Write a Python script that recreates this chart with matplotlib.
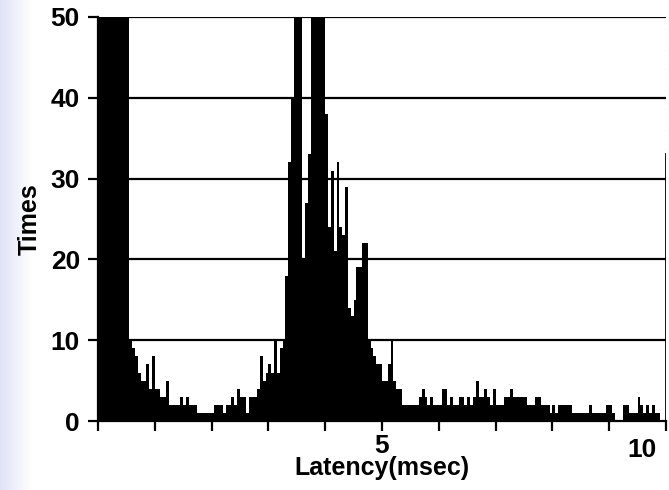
import numpy as np
import matplotlib
matplotlib.use("Agg")
import matplotlib.pyplot as plt
from matplotlib.transforms import ScaledTranslation

plt.rcParams['font.family'] = ['Liberation Sans', 'DejaVu Sans']

# histogram: bin width 0.05 msec, 0 .. 10 msec
bin_width = 0.05
counts = [
    60, 60, 60, 60, 60, 60, 60, 60, 60, 60,      # 0.00-0.50
    60, 10, 9, 8, 6, 5, 5, 7, 4, 8,              # 0.50-1.00
    4, 4, 3, 3, 5, 2, 2, 2, 2, 3,                # 1.00-1.50
    2, 3, 2, 2, 2, 1, 1, 1, 1, 1,                # 1.50-2.00
    1, 2, 2, 2, 1, 2, 2, 3, 2, 4,                # 2.00-2.50
    3, 3, 1, 3, 3, 3, 4, 8, 5, 6,                # 2.50-3.00
    7, 6, 10, 6, 9, 10, 18, 32, 40, 60,          # 3.00-3.50
    60, 60, 20, 27, 33, 60, 60, 60, 60, 60,      # 3.50-4.00
    38, 24, 31, 21, 32, 24, 23, 29, 14, 13,      # 4.00-4.50
    15, 19, 19, 22, 22, 10, 9, 8, 7, 7,          # 4.50-5.00
    5, 5, 7, 10, 5, 4, 4, 2, 2, 2,               # 5.00-5.50
    2, 2, 2, 3, 4, 3, 2, 3, 2, 2,                # 5.50-6.00
    2, 4, 4, 2, 3, 2, 2, 3, 3, 2,                # 6.00-6.50
    3, 2, 3, 5, 3, 3, 4, 3, 2, 4,                # 6.50-7.00
    2, 2, 2, 3, 3, 4, 3, 3, 3, 3,                # 7.00-7.50
    3, 2, 2, 2, 3, 3, 2, 2, 2, 1,                # 7.50-8.00
    2, 1, 2, 2, 2, 2, 2, 1, 1, 1,                # 8.00-8.50
    1, 1, 1, 2, 1, 1, 1, 1, 1, 2,                # 8.50-9.00
    2, 1, 0, 0, 0, 2, 2, 1, 1, 1,                # 9.00-9.50
    3, 2, 1, 2, 1, 2, 1, 1, 0, 0,                # 9.50-10.0
]

y_ticks = [0, 10, 20, 30, 40, 50]
x_ticks = [0, 1, 2, 3, 4, 5, 6, 7, 8, 9, 10]
x_tick_labels = ['', '', '', '', '', '5', '', '', '', '', '10']

W, H = 669, 490
fig = plt.figure(figsize=(W / 100, H / 100), dpi=100)

# light lavender gradient on the left edge of the page
bg = fig.add_axes([0, 0, 1, 1], zorder=-10)
xs = np.arange(W)
fade = np.clip(1 - xs / 32.0, 0, 1)
base = np.array([0.88, 0.89, 0.97])
grad = np.ones((2, W, 3))
for c in range(3):
    grad[:, :, c] = 1 - (1 - base[c]) * fade
bg.imshow(grad, aspect='auto', extent=[0, W, 0, H], interpolation='bilinear')
bg.set_xlim(0, W)
bg.set_ylim(0, H)
bg.axis('off')

ax = fig.add_axes([98 / W, 69 / H, (666 - 98) / W, (421 - 17) / H])
ax.set_facecolor('none')

edges = np.arange(len(counts) + 1) * bin_width
ax.stairs(counts, edges, fill=True, color='black', linewidth=0, zorder=3)

ax.set_xlim(0, 10)
ax.set_ylim(0, 50)

for yv in y_ticks[1:]:
    ax.axhline(yv, color='black', lw=1.6, zorder=2)

ax.spines['top'].set_visible(False)
ax.spines['right'].set_visible(False)
for s in ['left', 'bottom']:
    ax.spines[s].set_linewidth(1.6)
    ax.spines[s].set_zorder(4)
ax.axvline(10, ymin=0, ymax=0.66, color='black', lw=2, zorder=4)
ax.axvline(10, ymin=0.66, ymax=1, color='0.6', lw=0.8, ls=(0, (2, 2)), zorder=4)

ax.set_yticks(y_ticks)
ax.set_yticklabels([str(v) for v in y_ticks])
ax.set_xticks(x_ticks)
ax.set_xticklabels(x_tick_labels)
ax.tick_params(axis='both', direction='out', length=7, width=1.6,
               labelsize=19, colors='black')
ax.tick_params(axis='y', pad=6)
ax.tick_params(axis='x', pad=2)
for lab in ax.get_yticklabels() + ax.get_xticklabels():
    lab.set_fontweight('bold')
xl = ax.get_xticklabels()
xl[10].set_transform(xl[10].get_transform() +
                     ScaledTranslation(-0.24, -0.04, fig.dpi_scale_trans))

ax.set_xlabel('Latency(msec)', fontsize=18, fontweight='bold', labelpad=-4)
ax.set_ylabel('Times', fontsize=18, fontweight='bold', labelpad=6)

fig.savefig('out.png', dpi=100)
